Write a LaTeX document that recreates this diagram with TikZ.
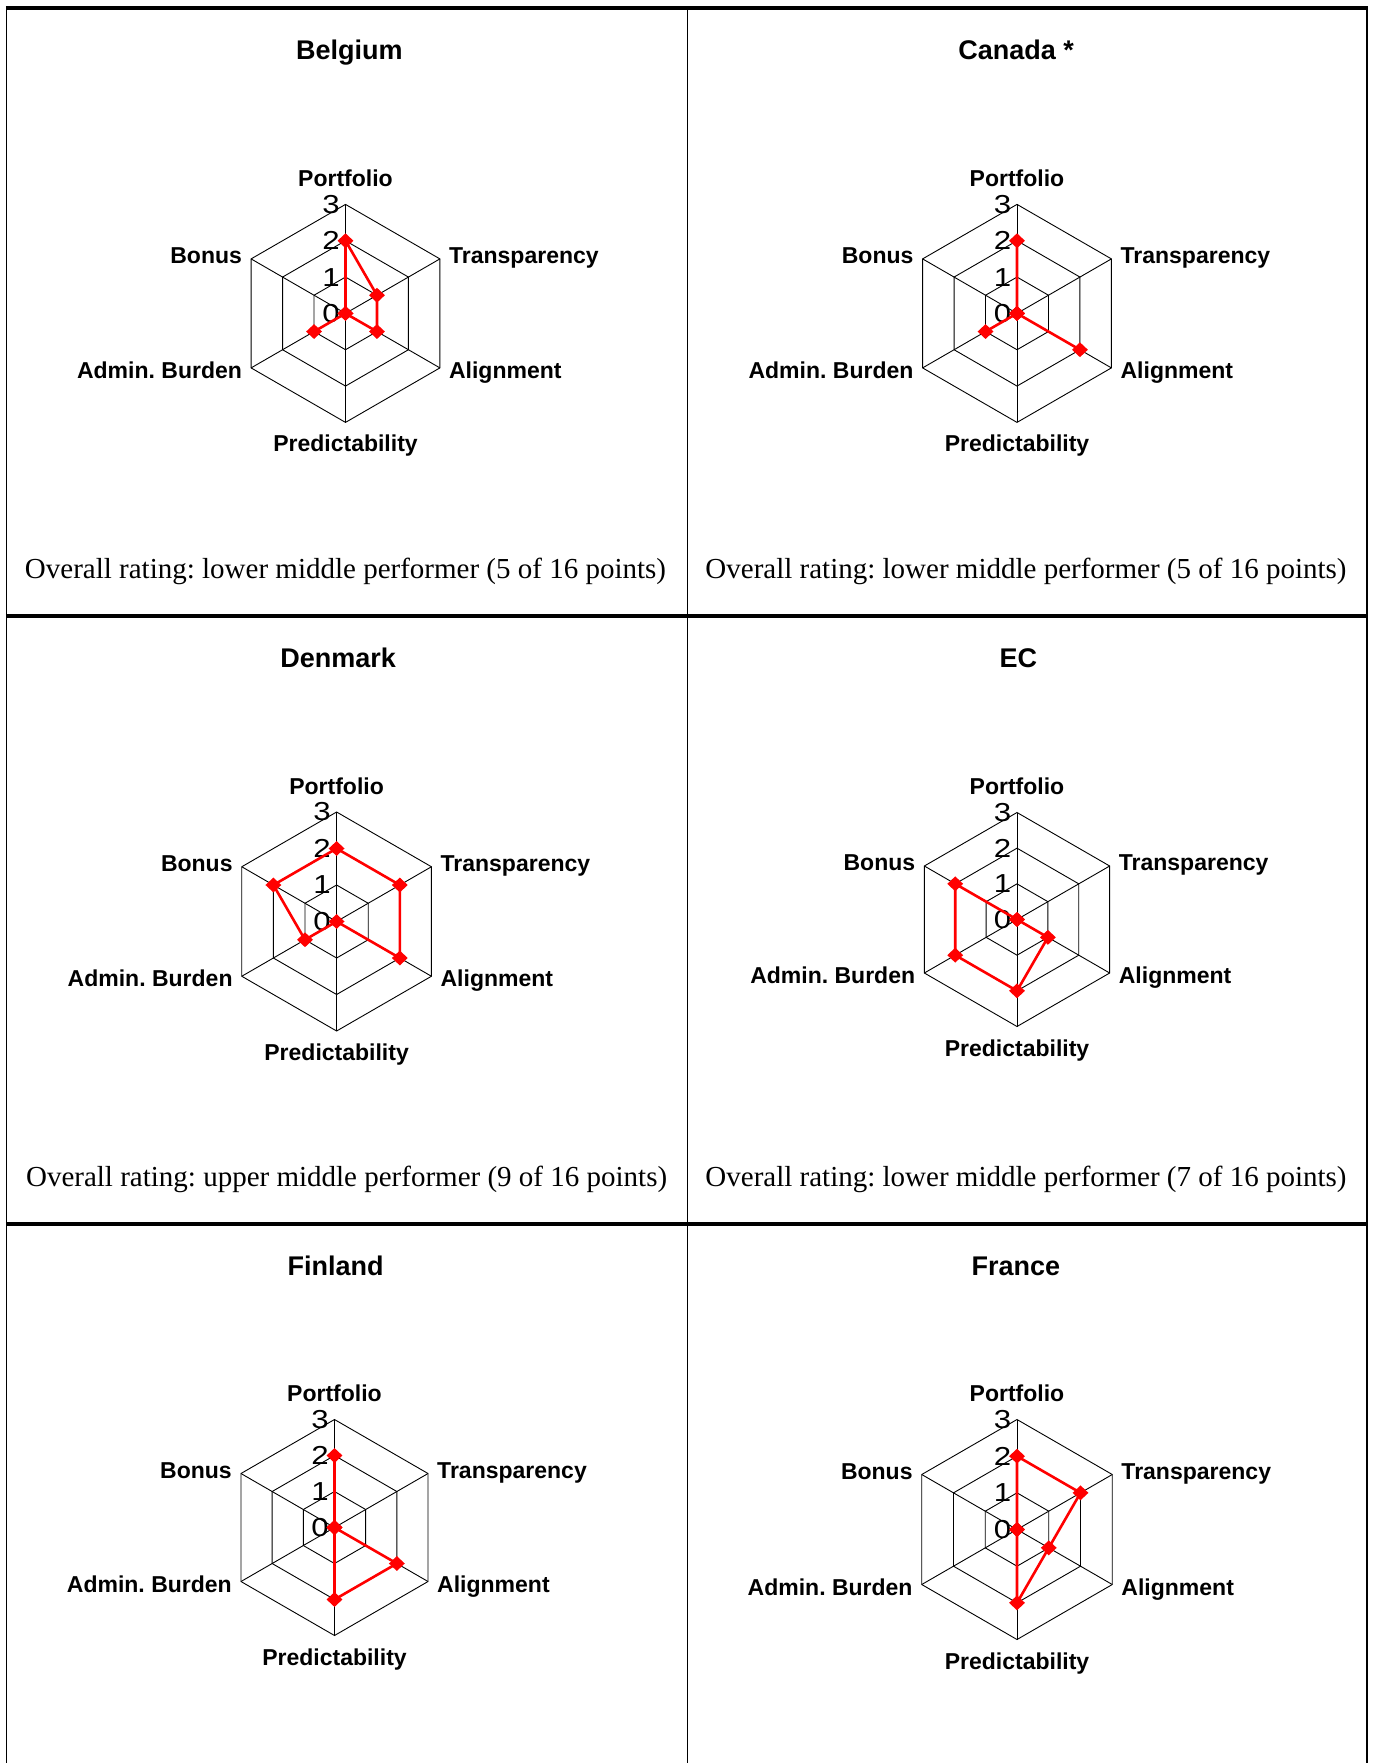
\documentclass[tikz,border=0pt]{standalone}
\usepackage{fontspec}
\setmainfont{Liberation Serif}
\setsansfont{Liberation Sans}
\frenchspacing
\usetikzlibrary{shapes.geometric}
\tikzset{
  gridline/.style={black, line width=0.9pt},
  dataline/.style={red, line width=2.6pt, line join=round},
  datamark/.style={diamond, fill=red, draw=none, inner sep=0pt, minimum width=16pt, minimum height=15pt},
  axlabel/.style={font=\sffamily\bfseries\fontsize{23}{23}\selectfont, inner sep=0pt},
  ticklabel/.style={font=\sffamily\fontsize{26}{26}\selectfont, inner sep=0pt},
  charttitle/.style={font=\sffamily\bfseries\fontsize{27}{27}\selectfont, inner sep=0pt, anchor=base},
  captiontext/.style={font=\fontsize{29}{29}\selectfont, inner sep=0pt, anchor=base},
  thickrule/.style={black, line width=3.5pt},
  thinrule/.style={black, line width=1.5pt},
}
\newcommand\radarplot[5]{%
  \begin{scope}[shift={(#2,#3)}]
    \foreach \k in {1,2,3}{
      \draw[gridline] (-90:{\k*#4/3}) -- (-30:{\k*#4/3}) -- (30:{\k*#4/3}) -- (90:{\k*#4/3}) -- (150:{\k*#4/3}) -- (210:{\k*#4/3}) -- cycle;
    }
    \foreach \a in {-90,-30,30,90,150,210} \draw[gridline] (0,0) -- (\a:#4);
    \foreach \k in {0,1,2,3} \node[ticklabel] (#1t\k) at (-14.5,{-\k*#4/3}) {\scalebox{1.2}[1]{\k}};
    \node[axlabel, anchor=base] (#1lp) at (0,{-#4-18}) {Portfolio};
    \node[axlabel, anchor=base west] (#1lt) at ({0.866*#4+9},{-0.5*#4+4.5}) {Transparency};
    \node[axlabel, anchor=base west] (#1la) at ({0.866*#4+9},{0.5*#4+10.5}) {Alignment};
    \node[axlabel, anchor=base] (#1lr) at (0,{#4+29.5}) {Predictability};
    \node[axlabel, anchor=base east] (#1ld) at ({-0.866*#4-9},{0.5*#4+10.5}) {Admin. Burden};
    \node[axlabel, anchor=base east] (#1lb) at ({-0.866*#4-9},{-0.5*#4+4.5}) {Bonus};
    \foreach \v [count=\i] in {#5} \coordinate (#1d\i) at ({-150+60*\i}:{\v*#4/3});
    \draw[dataline] (#1d1) -- (#1d2) -- (#1d3) -- (#1d4) -- (#1d5) -- (#1d6) -- cycle;
    \foreach \i in {1,...,6} \node[datamark] (#1m\i) at (#1d\i) {};
  \end{scope}%
}
\begin{document}
\begin{tikzpicture}[x=1pt, y=-1pt]
  \useasboundingbox (0,0) rectangle (1373,1763);
  \fill[white] (0,0) rectangle (1373,1763);

  % table rules
  \draw[thickrule] (5.8,8) -- (1367.8,8);
  \draw[thickrule] (5.8,616) -- (1367.8,616);
  \draw[thickrule] (5.8,1224) -- (1367.8,1224);
  \draw[thinrule] (6.6,8) -- (6.6,1763);
  \draw[thinrule] (687.5,8) -- (687.5,1763);
  \draw[thinrule] (1367,8) -- (1367,1763);

  % titles
  \node[charttitle] (tbe) at (349.3,59.3) {Belgium};
  \node[charttitle] (tca) at (1016.2,59.3) {Canada *};
  \node[charttitle] (tdk) at (338.2,667.3) {Denmark};
  \node[charttitle] (tec) at (1018.4,667.3) {EC};
  \node[charttitle] (tfi) at (335.6,1275.3) {Finland};
  \node[charttitle] (tfr) at (1015.8,1275.3) {France};

  % charts: Portfolio, Transparency, Alignment, Predictability, Admin. Burden, Bonus
  \radarplot{be}{345.5}{313.4}{109}{2,1,1,0,1,0}
  \radarplot{ca}{1017}{313.4}{109}{2,0,2,0,1,0}
  \radarplot{dk}{336.6}{921.5}{109.5}{2,2,2,0,1,2}
  \radarplot{ec}{1017}{919.5}{107}{0,0,1,2,2,2}
  \radarplot{fi}{334.5}{1527.5}{108}{2,0,2,2,0,0}
  \radarplot{fr}{1017}{1529.5}{110}{2,2,1,2,0,0}

  % captions
  \node[captiontext] (cbe) at (345.5,578) {Overall rating: lower middle performer (5 of 16 points)};
  \node[captiontext] (cca) at (1026,578) {Overall rating: lower middle performer (5 of 16 points)};
  \node[captiontext] (cdk) at (346.6,1186) {Overall rating: upper middle performer (9 of 16 points)};
  \node[captiontext] (cec) at (1026,1186) {Overall rating: lower middle performer (7 of 16 points)};
\end{tikzpicture}
\end{document}
